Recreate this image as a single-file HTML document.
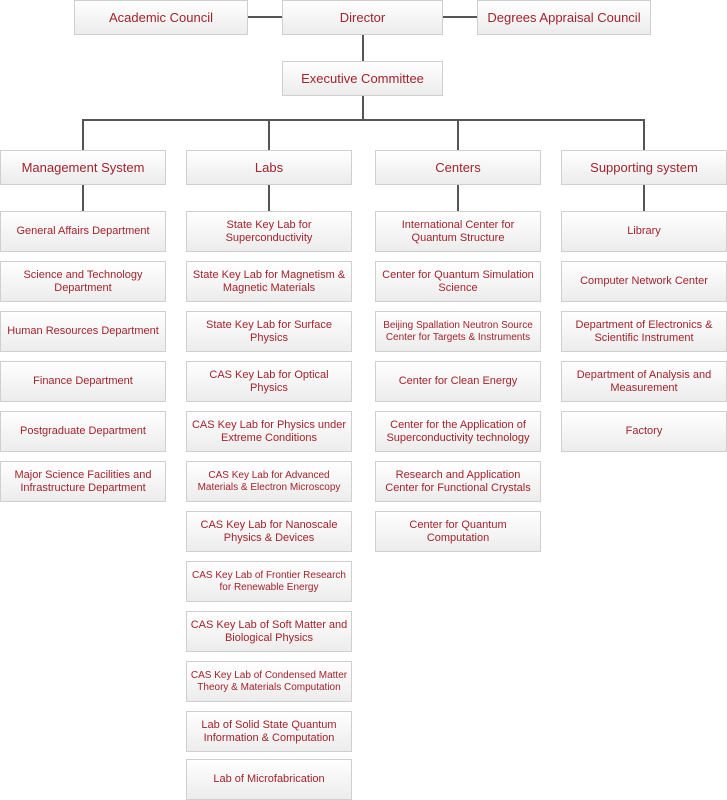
<!DOCTYPE html>
<html><head><meta charset="utf-8"><style>
body{margin:0;width:727px;height:800px;background:#fff;position:relative;overflow:hidden;font-family:"Liberation Sans",Arial,sans-serif}
.b{position:absolute;box-sizing:border-box;border:1px solid #cfcfcf;background:linear-gradient(#ffffff,#ececec);color:#a3232b;display:flex;align-items:center;justify-content:center;text-align:center;font-size:11px;line-height:13px;padding:0;white-space:nowrap}
.h{font-size:13px}
.s{font-size:10px;line-height:12px}
.l{position:absolute;background:#555}
</style></head><body>
<div class="l" style="left:247px;top:16px;width:36px;height:2px"></div>
<div class="l" style="left:442px;top:16px;width:36px;height:2px"></div>
<div class="l" style="left:362px;top:34px;width:2px;height:27px"></div>
<div class="l" style="left:362px;top:95px;width:2px;height:25px"></div>
<div class="l" style="left:82px;top:119px;width:563px;height:2px"></div>
<div class="l" style="left:82px;top:119px;width:2px;height:31px"></div>
<div class="l" style="left:268px;top:119px;width:2px;height:31px"></div>
<div class="l" style="left:457px;top:119px;width:2px;height:31px"></div>
<div class="l" style="left:643px;top:119px;width:2px;height:31px"></div>
<div class="l" style="left:82px;top:184px;width:2px;height:27px"></div>
<div class="l" style="left:268px;top:184px;width:2px;height:27px"></div>
<div class="l" style="left:457px;top:184px;width:2px;height:27px"></div>
<div class="l" style="left:643px;top:184px;width:2px;height:27px"></div>

<div class="b h" style="left:74px;top:0;width:174px;height:35px">Academic Council</div>
<div class="b h" style="left:282px;top:0;width:161px;height:35px">Director</div>
<div class="b h" style="left:477px;top:0;width:174px;height:35px">Degrees Appraisal Council</div>
<div class="b h" style="left:282px;top:61px;width:161px;height:35px">Executive Committee</div>

<div class="b h" style="left:0;top:150px;width:166px;height:35px">Management System</div>
<div class="b h" style="left:186px;top:150px;width:166px;height:35px">Labs</div>
<div class="b h" style="left:375px;top:150px;width:166px;height:35px">Centers</div>
<div class="b h" style="left:561px;top:150px;width:166px;height:35px">Supporting system</div>

<div class="b" style="left:0;top:211px;width:166px;height:41px">General Affairs Department</div>
<div class="b" style="left:0;top:261px;width:166px;height:41px">Science and Technology<br>Department</div>
<div class="b" style="left:0;top:311px;width:166px;height:41px">Human Resources Department</div>
<div class="b" style="left:0;top:361px;width:166px;height:41px">Finance Department</div>
<div class="b" style="left:0;top:411px;width:166px;height:41px">Postgraduate Department</div>
<div class="b" style="left:0;top:461px;width:166px;height:41px">Major Science Facilities and<br>Infrastructure Department</div>

<div class="b" style="left:186px;top:211px;width:166px;height:41px">State Key Lab for<br>Superconductivity</div>
<div class="b" style="left:186px;top:261px;width:166px;height:41px">State Key Lab for Magnetism &amp;<br>Magnetic Materials</div>
<div class="b" style="left:186px;top:311px;width:166px;height:41px">State Key Lab for Surface<br>Physics</div>
<div class="b" style="left:186px;top:361px;width:166px;height:41px">CAS Key Lab for Optical<br>Physics</div>
<div class="b" style="left:186px;top:411px;width:166px;height:41px">CAS Key Lab for Physics under<br>Extreme Conditions</div>
<div class="b s" style="left:186px;top:461px;width:166px;height:41px">CAS Key Lab for Advanced<br>Materials &amp; Electron Microscopy</div>
<div class="b" style="left:186px;top:511px;width:166px;height:41px">CAS Key Lab for Nanoscale<br>Physics &amp; Devices</div>
<div class="b s" style="left:186px;top:561px;width:166px;height:41px">CAS Key Lab of Frontier Research<br>for Renewable Energy</div>
<div class="b" style="left:186px;top:611px;width:166px;height:41px">CAS Key Lab of Soft Matter and<br>Biological Physics</div>
<div class="b s" style="left:186px;top:661px;width:166px;height:41px">CAS Key Lab of Condensed Matter<br>Theory &amp; Materials Computation</div>
<div class="b" style="left:186px;top:711px;width:166px;height:41px">Lab of Solid State Quantum<br>Information &amp; Computation</div>
<div class="b" style="left:186px;top:759px;width:166px;height:41px">Lab of Microfabrication</div>

<div class="b" style="left:375px;top:211px;width:166px;height:41px">International Center for<br>Quantum Structure</div>
<div class="b" style="left:375px;top:261px;width:166px;height:41px">Center for Quantum Simulation<br>Science</div>
<div class="b s" style="left:375px;top:311px;width:166px;height:41px">Beijing Spallation Neutron Source<br>Center for Targets &amp; Instruments</div>
<div class="b" style="left:375px;top:361px;width:166px;height:41px">Center for Clean Energy</div>
<div class="b" style="left:375px;top:411px;width:166px;height:41px">Center for the Application of<br>Superconductivity technology</div>
<div class="b" style="left:375px;top:461px;width:166px;height:41px">Research and Application<br>Center for Functional Crystals</div>
<div class="b" style="left:375px;top:511px;width:166px;height:41px">Center for Quantum<br>Computation</div>

<div class="b" style="left:561px;top:211px;width:166px;height:41px">Library</div>
<div class="b" style="left:561px;top:261px;width:166px;height:41px">Computer Network Center</div>
<div class="b" style="left:561px;top:311px;width:166px;height:41px">Department of Electronics &amp;<br>Scientific Instrument</div>
<div class="b" style="left:561px;top:361px;width:166px;height:41px">Department of Analysis and<br>Measurement</div>
<div class="b" style="left:561px;top:411px;width:166px;height:41px">Factory</div>
</body></html>
